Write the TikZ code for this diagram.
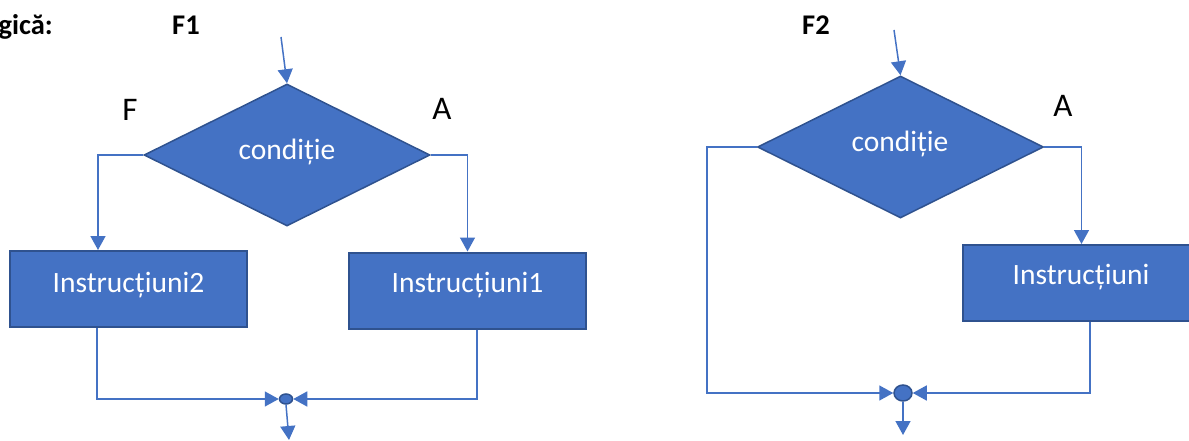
\documentclass[tikz,border=0pt]{standalone}
\usepackage{fontspec}
\setmainfont{Carlito}
\usetikzlibrary{arrows.meta,shapes.geometric,calc}
\definecolor{ofblue}{HTML}{4472C4}
\definecolor{ofdark}{HTML}{2F528F}
\begin{document}
\begin{tikzpicture}[x=1pt,y=-1pt,
  flow/.style={draw=ofblue, line width=1.5pt},
  arr/.style={flow, -{Triangle[length=14pt,width=15pt]}},
  dec/.style={diamond, fill=ofblue, draw=ofdark, line width=1.5pt, inner sep=0pt, minimum width=286pt, minimum height=142pt},
  proc/.style={rectangle, fill=ofblue, draw=ofdark, line width=2pt, inner sep=0pt, minimum width=237pt, minimum height=76pt},
  wtxt/.style={text=white, font=\fontsize{29.5}{31}\selectfont, anchor=base, inner sep=0pt},
  btxt/.style={font=\bfseries\fontsize{28.5}{30}\selectfont, inner sep=0pt},
  ltxt/.style={font=\fontsize{33}{35}\selectfont, anchor=base, inner sep=0pt},
  junc/.style={ellipse, fill=ofblue, draw=ofdark, line width=1.5pt, inner sep=0pt}]
\useasboundingbox (0,0) rectangle (1189,441);
% ---------- F1 ----------
\node[dec] (d1) at (287,155) {};
\node[proc] (b2) at (128.5,289) {};
\node[proc] (b1) at (467.5,290.5) {};
\node[junc, minimum width=13pt, minimum height=10pt] (j1) at (286,399) {};
\node[wtxt] (t1) at (287,160) {condiție};
\node[wtxt] (t2) at (128.5,292) {Instrucțiuni2};
\node[wtxt] (t3) at (467.5,292) {Instrucțiuni1};
\node[btxt, anchor=base east] (g) at (53,35) {gică:};
\node[btxt, anchor=base west] (f1) at (172,35) {F1};
\node[ltxt] (lf) at (130,121) {F};
\node[ltxt] (la) at (442,120) {A};
\coordinate (s1) at (281,37);
\coordinate (e1) at (289,440);
\draw[arr] (s1) -- (d1.north);
\draw[arr] (d1.west) -| ([xshift=-30.5pt]b2.north);
\draw[arr] (d1.east) -| (b1.north);
\draw[arr] ([xshift=-31.5pt]b2.south) |- (j1.west);
\draw[arr] ([xshift=9.5pt]b1.south) |- (j1.east);
\draw[arr] (j1.south) -- (e1);
% ---------- F2 ----------
\node[dec] (d2) at (900.5,147) {};
\node[proc] (b3) at (1081.5,283) {};
\node[junc, minimum width=18pt, minimum height=16pt] (j2) at (903,393) {};
\node[wtxt] (t4) at (900,152) {condiție};
\node[wtxt] (t5) at (1081,284) {Instrucțiuni};
\node[btxt, anchor=base west] (f2) at (802,35) {F2};
\node[ltxt] (la2) at (1063,117) {A};
\coordinate (s2) at (894,30);
\coordinate (k2) at (707,393);
\coordinate (e2) at (903,435);
\draw[arr] (s2) -- (d2.north);
\draw[arr] (d2.east) -| (b3.north);
\draw[arr] (d2.west) -| (k2) -- (j2.west);
\draw[arr] ([xshift=8.5pt]b3.south) |- (j2.east);
\draw[arr] (j2.south) -- (e2);
\end{tikzpicture}
\end{document}
